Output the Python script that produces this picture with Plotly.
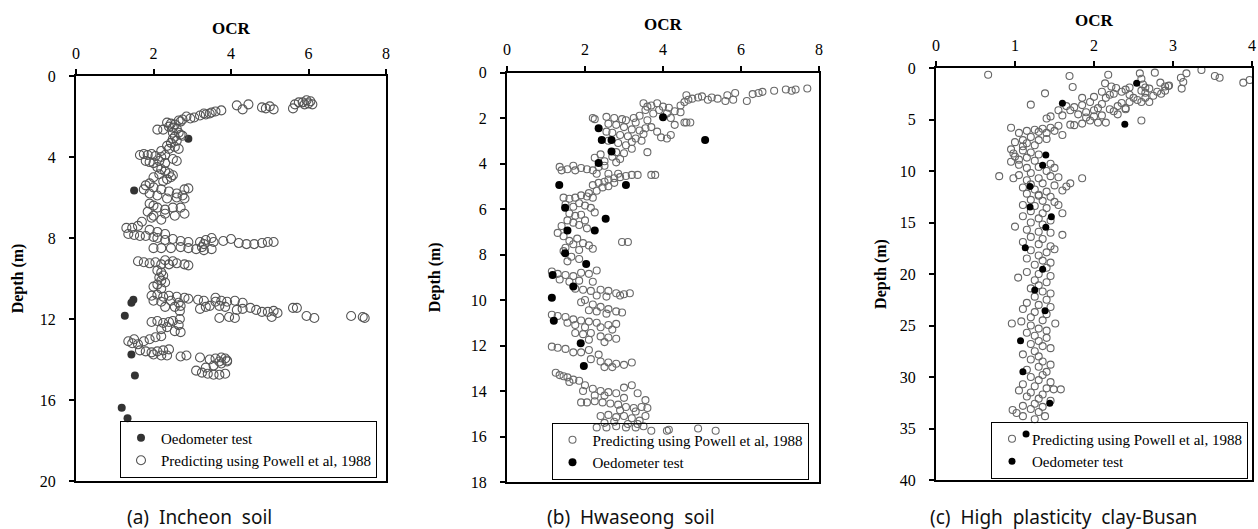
import plotly.graph_objects as go

W, H = 1258, 529

# ---------------- DATA ----------------
# (a) Incheon soil : (OCR, depth m)
a_pred = [
    (5.95,1.2),(6.05,1.25),(5.85,1.3),(5.75,1.3),(6.1,1.4),(5.65,1.4),(5.9,1.4),(5.6,1.6),(6.0,1.35),
    (4.15,1.45),(4.3,1.65),(4.45,1.4),(4.8,1.55),(4.9,1.6),(5.0,1.5),(5.1,1.65),
    (3.75,1.7),(3.6,1.75),(3.5,1.8),(3.45,1.85),(3.35,1.9),(3.3,1.85),(3.2,1.95),(3.05,2.05),(2.95,2.1),
    (2.85,2.0),(2.75,2.15),(2.7,2.25),(2.65,2.2),
    (2.1,2.65),(2.25,2.65),(2.35,2.3),(2.45,2.35),(2.55,2.4),(2.4,2.5),(2.5,2.55),(2.6,2.6),(2.65,2.8),
    (2.7,2.9),(2.75,2.95),(2.55,3.0),(2.5,3.1),(2.6,3.2),(2.45,3.3),(2.55,3.5),(2.4,3.6),(2.65,3.6),
    (2.2,3.7),(2.35,3.45),(2.5,2.8),
    (1.65,3.9),(1.75,3.85),(1.85,3.9),(1.95,3.85),(2.05,3.95),(2.2,4.0),(2.3,3.9),(1.8,4.2),(1.9,4.25),
    (2.0,4.3),(2.15,4.2),(2.3,4.3),(2.5,4.1),(2.6,4.2),
    (2.1,4.5),(2.2,4.6),(2.3,4.7),(2.4,4.8),(2.5,4.9),(2.45,5.0),(2.35,5.1),(2.25,5.2),(2.0,5.0),(2.15,4.85),
    (1.8,5.4),(1.9,5.3),(2.0,5.5),(2.2,5.6),(2.4,5.7),(2.6,5.8),(2.8,5.6),(2.9,5.55),(2.75,5.9),(2.6,6.0),
    (2.8,6.05),(2.35,6.05),(2.1,5.9),(1.9,5.8),(1.75,5.6),
    (1.9,6.3),(2.0,6.4),(2.1,6.5),(2.3,6.6),(2.5,6.5),(2.7,6.5),(2.8,6.8),(2.55,6.9),(2.3,6.8),(2.0,6.9),
    (1.85,6.7),(1.95,7.0),(2.2,7.1),
    (1.7,7.2),(1.6,7.4),(1.45,7.5),(1.3,7.5),(1.35,7.8),(1.5,7.85),(1.65,7.9),(1.8,7.9),(2.0,7.95),
    (1.9,7.6),(2.1,7.7),(2.3,7.8),
    (2.1,8.0),(2.3,8.1),(2.5,8.05),(2.7,8.15),(2.9,8.2),(3.2,8.2),(3.35,8.1),(3.5,8.0),(3.55,8.2),
    (3.8,8.15),(4.0,8.05),(4.2,8.25),(4.4,8.3),(4.6,8.3),(4.8,8.25),(4.95,8.2),(5.1,8.2),(3.3,8.3),
    (2.0,8.5),(2.2,8.5),(2.45,8.5),(2.7,8.45),(2.9,8.5),(3.1,8.55),(3.3,8.6),(3.5,8.55),(3.25,8.45),
    (1.6,9.15),(1.75,9.2),(1.9,9.25),(2.05,9.2),(2.2,9.3),(2.4,9.3),(2.6,9.25),(2.8,9.3),(2.9,9.35),
    (2.5,9.15),(2.3,9.1),
    (2.1,9.6),(2.2,9.7),(2.25,9.85),(2.15,9.95),(2.2,10.1),(2.3,10.2),(2.1,10.3),(2.0,10.4),(2.2,10.5),
    (1.95,10.85),(2.1,10.8),(2.25,10.9),(2.4,10.85),(2.6,10.9),(2.8,10.95),(2.0,11.1),(2.2,11.15),
    (2.45,11.1),(2.65,11.2),(2.9,11.0),(2.3,11.4),(2.55,11.4),(2.7,11.35),
    (3.15,11.05),(3.3,11.1),(3.2,11.5),(3.35,11.4),(3.6,10.95),(3.6,11.15),(3.75,11.1),(3.9,11.15),
    (4.1,11.1),(4.3,11.2),(3.45,11.35),(3.7,11.35),(3.85,11.4),(4.15,11.55),(4.3,11.5),(4.5,11.45),
    (4.65,11.55),(4.8,11.65),(4.95,11.65),(5.1,11.6),(5.2,11.7),(5.05,11.9),(3.7,11.95),(3.95,11.9),
    (4.1,11.95),(2.68,11.6),(2.68,12.0),(5.6,11.45),(5.7,11.45),(5.95,11.85),(6.15,11.95),(7.1,11.85),
    (7.4,11.9),(7.45,11.95),
    (1.95,12.15),(2.1,12.1),(2.25,12.2),(2.4,12.15),(2.5,12.1),(2.35,12.4),(2.2,12.5),(2.55,12.6),
    (2.7,12.65),(2.65,12.3),
    (1.35,13.1),(1.45,13.2),(1.6,13.25),(1.75,13.1),(1.9,13.0),(2.05,12.9),(2.2,12.85),(1.5,13.0),
    (1.65,13.55),(1.8,13.6),(1.95,13.65),(2.1,13.6),(2.25,13.55),(2.4,13.5),(2.0,13.75),(2.2,13.8),
    (2.35,13.8),
    (2.7,13.85),(2.85,13.8),(3.2,13.9),(3.45,14.0),(3.6,13.95),(3.75,13.9),(3.85,13.95),(3.9,14.05),
    (3.7,14.1),
    (3.1,14.55),(3.25,14.65),(3.4,14.7),(3.55,14.75),(3.7,14.75),(3.85,14.7),(3.35,14.4),(3.55,14.3),
    (3.75,14.2),(3.9,14.1),
]
a_oedo = [(2.9,3.1),(1.5,5.65),(1.48,11.05),(1.43,11.2),(1.26,11.84),(1.43,13.75),(1.52,14.79),
          (1.18,16.38),(1.33,16.9)]

# (b) Hwaseong soil
b_pred = [
    (7.7,0.7),(7.4,0.75),(7.3,0.8),(7.15,0.75),(6.85,0.8),(6.55,0.85),(6.45,0.9),(6.3,0.95),(6.15,1.25),
    (5.85,0.9),(5.65,1.0),(5.6,1.25),(5.4,1.15),(5.25,1.1),(5.0,1.05),(4.9,1.1),(4.75,1.15),(4.65,1.2),
    (4.55,1.3),(4.6,1.0),(4.45,1.45),(5.8,1.2),(5.15,1.2),
    (3.5,1.35),(3.6,1.5),(3.7,1.45),(3.85,1.35),(4.0,1.5),(4.15,1.55),(4.3,1.7),(4.45,1.75),(3.55,1.65),
    (3.75,1.8),(3.9,1.65),(4.1,1.8),(4.2,2.0),(4.3,2.3),(4.55,2.2),(4.7,2.2),(4.6,2.2),
    (2.2,2.0),(2.25,2.05),(2.55,1.95),(2.75,2.0),(2.95,2.05),(3.05,2.1),(3.25,2.0),(3.4,1.9),(3.6,2.1),
    (2.6,2.25),(2.8,2.3),(3.0,2.4),(3.2,2.5),(3.4,2.55),(3.55,2.45),(3.7,2.4),(3.85,2.6),(3.95,2.85),
    (4.1,2.9),(4.2,2.75),(2.55,2.6),(2.7,2.65),(2.9,2.75),(3.1,2.8),(3.3,2.9),(2.6,3.0),(2.85,3.1),
    (3.05,3.2),(3.2,3.35),(2.8,3.5),(3.0,3.55),(2.4,3.6),(2.7,3.7),(2.25,3.75),(2.9,3.8),(3.6,3.5),
    (2.5,3.9),(2.8,3.95),(3.2,3.05),(3.45,3.0),(3.3,2.2),(3.5,2.7),
    (1.35,4.15),(1.4,4.3),(1.55,4.25),(1.75,4.3),(1.9,4.2),(2.05,4.25),(2.2,4.3),(2.35,4.15),(2.5,4.1),
    (2.6,4.45),(2.3,4.45),(1.7,4.1),
    (2.2,4.95),(2.35,4.85),(2.5,4.8),(2.6,4.7),(2.75,4.65),(2.9,4.6),(3.05,4.55),(3.2,4.5),(3.35,4.5),
    (3.7,4.5),(3.8,4.5),(2.45,5.05),(2.3,5.2),(2.1,5.3),(2.6,5.0),(2.75,4.85),(2.85,4.45),
    (1.45,5.5),(1.6,5.55),(1.75,5.5),(1.9,5.4),(2.05,5.45),(2.2,5.5),(1.5,5.8),(1.7,5.9),(1.85,5.75),
    (2.0,5.85),(2.15,5.95),(2.25,6.15),(1.6,6.2),(1.75,6.3),(1.9,6.25),(2.0,6.5),(1.55,6.5),(1.7,6.6),
    (1.85,6.7),(2.05,6.85),(1.4,6.75),(1.3,7.05),(1.45,7.2),(1.6,7.4),(1.8,7.3),(1.95,7.5),(2.1,7.6),
    (1.7,7.55),(1.5,7.7),(1.45,7.85),(1.85,7.8),(2.2,7.75),(2.95,7.45),(3.1,7.45),(1.65,8.1),(1.85,8.2),
    (1.55,8.3),
    (1.15,8.75),(1.3,8.85),(1.5,8.9),(1.7,8.95),(1.9,8.8),(2.1,8.85),(2.3,8.7),(1.35,9.1),(1.6,9.2),
    (1.85,9.15),(2.2,9.2),
    (1.75,9.5),(1.95,9.55),(2.15,9.6),(2.4,9.55),(2.6,9.6),(2.8,9.7),(3.0,9.75),(3.15,9.7),(2.3,9.8),
    (2.55,9.85),(2.9,9.8),
    (1.9,10.1),(2.0,10.0),(2.2,10.2),(2.4,10.3),(2.6,10.4),(2.8,10.5),(2.95,10.55),(2.1,10.45),(2.3,10.5),
    (2.55,10.6),
    (1.15,10.65),(1.3,10.7),(1.5,10.75),(1.7,10.85),(1.9,10.9),(2.1,10.95),(2.3,11.0),(2.6,11.1),
    (2.8,11.05),(1.55,11.0),(1.75,11.1),(2.0,11.2),(2.4,11.2),(2.7,11.3),
    (1.75,11.45),(1.95,11.5),(2.15,11.45),(2.4,11.6),(2.6,11.65),(2.8,11.7),(2.1,11.75),(2.5,11.85),
    (1.15,12.05),(1.3,12.1),(1.5,12.15),(1.7,12.3),(1.9,12.3),(2.1,12.2),(2.35,12.4),(2.15,12.6),
    (2.4,12.7),(2.6,12.75),(2.8,12.8),(3.0,12.85),(3.2,12.75),(2.5,12.95),(2.7,12.95),
    (1.25,13.2),(1.35,13.3),(1.45,13.35),(1.55,13.4),(1.7,13.5),(1.6,13.6),(1.85,13.55),
    (2.0,13.75),(2.2,13.9),(2.4,14.0),(2.6,14.05),(2.8,14.1),(3.0,13.85),(3.2,13.75),(3.35,14.1),
    (1.95,14.0),(2.25,14.2),(2.5,14.2),(3.0,14.3),
    (1.9,14.5),(2.05,14.5),(2.25,14.45),(2.45,14.5),(2.65,14.55),(2.85,14.6),(3.05,14.7),(3.25,14.75),
    (3.45,14.7),(3.6,14.75),(3.55,14.4),(3.3,14.9),(2.9,14.85),
    (2.4,15.1),(2.6,15.05),(2.8,15.15),(3.0,15.1),(3.2,15.2),(3.4,15.3),(3.55,15.1),(2.5,15.4),
    (2.75,15.35),(3.1,15.45),(3.35,15.45),
    (2.3,15.6),(2.55,15.6),(2.8,15.55),(3.05,15.6),(3.3,15.6),(3.5,15.55),(3.7,15.75),(4.1,15.75),
    (4.15,15.7),(4.9,15.65),(5.35,15.75),
]
b_oedo = [(4.0,1.97),(2.35,2.45),(2.43,2.97),(2.68,2.97),(2.68,3.47),(2.35,3.98),(5.08,2.97),(1.34,4.94),
          (3.05,4.94),(1.49,5.95),(2.53,6.43),(1.55,6.94),(2.25,6.94),(1.49,7.94),(2.03,8.42),(1.17,8.9),
          (1.7,9.41),(1.15,9.9),(1.2,10.91),(1.89,11.9),(1.97,12.9)]

# (c) High plasticity clay - Busan
c_pred = [
    (0.66,0.65),(1.69,0.78),(1.73,1.84),(1.38,2.46),(1.2,3.56),(2.18,0.65),(2.14,1.49),(2.22,1.8),
    (2.28,1.94),(2.58,0.52),(2.6,1.04),(2.77,0.45),(2.84,1.42),(2.94,1.75),(3.11,2.0),(3.13,1.36),
    (3.17,0.52),(3.1,0.94),(3.36,0.19),(3.53,0.78),(3.59,0.94),(3.89,1.42),(3.97,1.17),(2.62,1.6),
    (2.7,2.0),(2.65,2.4),(2.8,2.3),(2.9,1.8),
    (2.1,2.3),(2.2,2.6),(2.15,2.9),(2.25,2.5),(2.35,2.3),(2.45,2.6),(2.5,2.9),(2.55,3.1),(2.65,2.9),
    (2.75,2.7),(2.85,2.5),(2.9,2.2),(2.7,3.3),(2.6,3.3),(2.45,3.3),(2.35,3.4),(2.3,3.7),(2.4,4.0),
    (2.25,4.2),(2.3,4.5),(2.05,3.9),(2.1,3.5),(1.95,3.3),(1.85,3.6),(1.75,3.8),(1.65,3.7),(1.7,4.1),
    (1.55,4.1),(1.6,4.6),(1.45,4.7),(1.4,4.9),(1.55,5.6),(1.7,5.5),(1.75,5.55),(1.85,5.4),(1.95,5.1),
    (2.0,4.7),(2.1,4.6),(2.15,5.3),(2.05,5.3),(1.9,4.3),(2.0,4.1),(1.8,4.5),(1.9,4.8),(2.2,4.0),
    (2.6,5.1),(1.85,2.9),(2.0,2.8),(2.4,2.1),(2.6,2.2),(2.65,1.9),(2.45,1.9),(2.95,1.7),(2.4,3.9),
    (0.95,5.8),(1.05,6.3),(1.15,6.1),(1.25,6.0),(1.35,5.9),(1.45,5.8),(1.5,6.1),(1.6,6.5),(1.4,6.3),
    (1.3,6.2),(1.2,6.7),(1.1,7.0),(1.0,7.2),(1.15,7.3),(1.3,7.0),(1.4,6.9),(1.25,7.5),(1.1,7.6),
    (0.95,7.9),(0.98,8.3),(1.0,8.6),(1.05,8.9),(0.95,9.1),(1.1,8.0),(1.2,8.2),(1.3,8.4),(1.15,8.7),
    (1.25,9.0),(1.05,9.4),(1.15,9.7),(1.3,9.6),(1.45,9.3),(1.5,9.7),(1.4,10.0),(1.2,10.2),(1.05,10.4),
    (0.98,10.7),(0.8,10.5),(1.15,10.9),(1.3,10.7),(1.45,10.5),(1.55,10.6),(1.35,11.2),(1.5,11.4),
    (1.6,11.9),(1.65,11.5),(1.7,11.2),(1.85,10.7),(1.2,11.3),(1.1,11.6),(1.25,11.8),(1.4,12.0),(1.3,12.3),
    (1.15,12.2),(1.3,12.4),(1.45,12.5),(1.2,12.8),(1.35,12.9),(1.5,13.0),(1.1,13.3),(1.25,13.4),
    (1.4,13.6),(1.55,13.3),(1.2,13.9),(1.35,14.1),(1.1,14.4),(1.3,14.6),(1.45,14.8),(1.6,14.1),
    (1.2,15.0),(1.35,15.2),(1.0,15.4),(1.15,15.7),(1.3,15.9),(1.45,16.0),(1.6,16.2),(1.2,16.4),
    (1.35,16.6),(1.1,16.9),(1.3,17.1),(1.45,17.3),(1.2,17.7),(1.4,17.9),(1.5,17.6),(1.3,18.2),
    (1.15,18.5),(1.35,18.7),(1.45,18.9),(1.25,19.1),(1.4,19.4),(1.15,19.8),(1.3,20.0),(1.45,20.2),
    (1.04,20.35),(1.25,20.6),(1.4,20.8),(1.3,21.1),(1.2,21.4),(1.35,21.7),(1.45,21.9),(1.25,22.2),
    (1.4,22.5),(1.15,22.8),(1.3,23.0),(1.45,23.2),(1.1,23.4),(1.25,23.7),(1.4,23.9),(1.2,24.2),
    (0.96,24.8),(1.08,24.6),(1.35,24.5),(1.51,24.8),(1.2,25.0),(1.3,25.3),(1.4,25.5),(1.15,25.7),
    (1.25,26.0),(1.4,26.2),(1.3,26.5),(1.2,26.8),(1.35,27.0),(1.45,27.2),(1.25,27.5),(1.1,27.8),
    (1.3,28.0),(1.2,28.3),(1.35,28.5),(1.45,28.8),(1.3,29.0),(1.15,29.3),(1.4,29.5),(1.35,29.8),
    (1.2,30.0),(1.3,30.3),(1.45,30.5),(1.1,30.7),(1.25,30.9),(1.49,31.2),(1.58,31.2),(1.4,31.1),
    (1.05,31.3),(1.2,31.5),(1.35,31.7),(1.15,31.9),(1.3,32.1),(1.45,32.3),(1.25,32.6),(1.1,32.8),
    (1.35,32.9),(1.2,33.1),(0.97,33.2),(1.02,33.5),(1.1,33.8),(1.25,34.1),(1.38,33.8),(1.3,33.4),
]
c_oedo = [(2.54,1.49),(1.6,3.43),(2.39,5.47),(1.39,8.45),(1.35,9.45),(1.19,11.5),(1.19,13.5),(1.46,14.43),
          (1.39,15.47),(1.13,17.44),(1.35,19.55),(1.25,21.55),(1.38,23.56),(1.07,26.47),(1.1,29.48),
          (1.44,32.56),(1.14,35.53)]

ocr_ticks_ab = [0, 2, 4, 6, 8]
ocr_ticks_c = [0, 1, 2, 3, 4]
depth_ticks_a = [0, 4, 8, 12, 16, 20]
depth_ticks_b = [0, 2, 4, 6, 8, 10, 12, 14, 16, 18]
depth_ticks_c = [0, 5, 10, 15, 20, 25, 30, 35, 40]

captions = ["(a)  Incheon  soil", "(b)  Hwaseong  soil", "(c)  High  plasticity  clay-Busan"]
pred_name = "Predicting using Powell et al, 1988"
oedo_name = "Oedometer test"

# ---------------- FIGURE ----------------
SERIF = "Liberation Serif, Times New Roman, serif"
fig = go.Figure()

def xs(pts): return [p[0] for p in pts]
def ys(pts): return [p[1] for p in pts]

def pred_trace(pts, ax, leg, size, color):
    return go.Scatter(x=xs(pts), y=ys(pts), mode="markers", name=pred_name,
                      xaxis="x" + ax, yaxis="y" + ax, legend=leg,
                      marker=dict(symbol="circle-open", size=size, color=color, line=dict(width=1.1)))

def oedo_trace(pts, ax, leg, size, color):
    return go.Scatter(x=xs(pts), y=ys(pts), mode="markers", name=oedo_name,
                      xaxis="x" + ax, yaxis="y" + ax, legend=leg,
                      marker=dict(symbol="circle", size=size, color=color, line=dict(width=0)))

# (a): oedometer first in legend
fig.add_trace(oedo_trace(a_oedo, "", "legend", 8, "#333333"))
fig.add_trace(pred_trace(a_pred, "", "legend", 9, "#555555"))
# (b)
fig.add_trace(pred_trace(b_pred, "2", "legend2", 7, "#6a6a6a"))
fig.add_trace(oedo_trace(b_oedo, "2", "legend2", 8, "#000000"))
# (c)
fig.add_trace(pred_trace(c_pred, "3", "legend3", 7, "#666666"))
fig.add_trace(oedo_trace(c_oedo, "3", "legend3", 7, "#000000"))

def xaxis(dom, rng, ticks, anchor):
    return dict(domain=dom, range=rng, tickvals=ticks, side="top", anchor=anchor,
                showline=True, linecolor="black", linewidth=2, mirror=True,
                ticks="outside", ticklen=5, tickwidth=2, tickcolor="black",
                tickfont=dict(family=SERIF, size=16, color="black"), ticklabelstandoff=4,
                title=dict(text="<b>OCR</b>", font=dict(family=SERIF, size=17, color="black"), standoff=6),
                showgrid=False, zeroline=False, automargin=False)

def yaxis(dom, rng, ticks, anchor, standoff):
    return dict(domain=dom, range=rng, tickvals=ticks, anchor=anchor,
                showline=True, linecolor="black", linewidth=2, mirror=True,
                ticks="outside", ticklen=5, tickwidth=2, tickcolor="black",
                tickfont=dict(family=SERIF, size=16, color="black"), ticklabelstandoff=10,
                title=dict(text="<b>Depth (m)</b>", font=dict(family=SERIF, size=16, color="black"),
                           standoff=standoff),
                showgrid=False, zeroline=False, automargin=False)

def fx(px): return px / W
def fy(py): return 1 - py / H

legend_common = dict(bordercolor="black", borderwidth=1, bgcolor="rgba(255,255,255,0)",
                     font=dict(family=SERIF, size=15, color="black"), itemwidth=30,
                     xanchor="center", yanchor="middle", tracegroupgap=0)

fig.update_layout(
    width=W, height=H, template="none",
    margin=dict(l=0, r=0, t=0, b=0),
    paper_bgcolor="white", plot_bgcolor="white",
    xaxis=xaxis([fx(76), fx(386)], [0, 8], ocr_ticks_ab, "y"),
    yaxis=yaxis([fy(481), fy(76)], [20, 0], depth_ticks_a, "x", 12),
    xaxis2=xaxis([fx(507), fx(819)], [0, 8], ocr_ticks_ab, "y2"),
    yaxis2=yaxis([fy(482), fy(72.5)], [18, 0], depth_ticks_b, "x2", 26),
    xaxis3=xaxis([fx(936), fx(1252)], [0, 4], ocr_ticks_c, "y3"),
    yaxis3=yaxis([fy(480), fy(68)], [40, 0], depth_ticks_c, "x3", 9),
    showlegend=True,
    legend=dict(x=fx(248.5), y=fy(449), **legend_common),
    legend2=dict(x=fx(680), y=fy(451), **legend_common),
    legend3=dict(x=fx(1119.5), y=fy(450), **legend_common),
)

for cx, text in zip([199, 631, 1063], captions):
    fig.add_annotation(x=fx(cx), y=fy(517), xref="paper", yref="paper", text=text, showarrow=False,
                       xanchor="center", yanchor="middle",
                       font=dict(family="Noto Sans, DejaVu Sans, sans-serif", size=19, color="#111111"))

fig.write_html("out.html")
